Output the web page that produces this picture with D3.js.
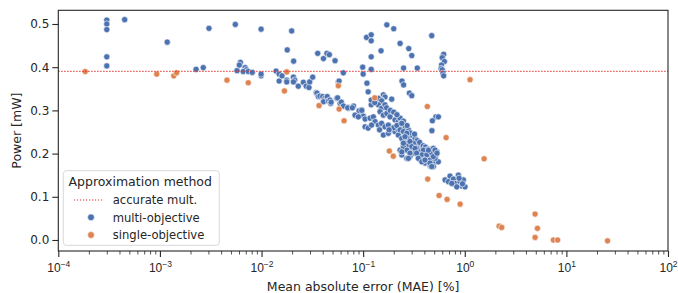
<!DOCTYPE html>
<html>
<head>
<meta charset="utf-8">
<script src="https://cdn.jsdelivr.net/npm/d3@7"></script>
<style>
  body { margin: 0; background: #fff; }
  svg { font-family: "DejaVu Sans", sans-serif; }
</style>
</head>
<body>
<svg id="chart" width="678" height="293"></svg>
<script>
// values
const xMajorTicks = [1e-4, 1e-3, 1e-2, 1e-1, 1e0, 1e1, 1e2]
const yTicks = [0, 0.1, 0.2, 0.3, 0.4, 0.5]
const accuratePower = 0.3905

// [MAE %, power mW]
const multiObjective = [
  [0.0003, 0.509], [0.0003, 0.500], [0.0003, 0.487], [0.0003, 0.424], [0.0003, 0.403],
  [0.00045, 0.510], [0.00118, 0.458], [0.00304, 0.490], [0.00227, 0.395], [0.00267, 0.399],
  [0.00552, 0.499], [0.00574, 0.392],
  [0.0062, 0.411], [0.00605, 0.405], [0.0069, 0.399], [0.0071, 0.394], [0.0066, 0.390], [0.0074, 0.390], [0.0081, 0.388],
  [0.0099, 0.488], [0.0099, 0.380], [0.0099, 0.384],
  [0.0139, 0.391], [0.0149, 0.384], [0.0149, 0.368], [0.0159, 0.380], [0.0177, 0.370], [0.0177, 0.366],
  [0.0179, 0.440], [0.0198, 0.484], [0.0207, 0.414], [0.0206, 0.377], [0.0212, 0.370], [0.0206, 0.366],
  [0.023, 0.356], [0.0258, 0.365], [0.0275, 0.356], [0.0293, 0.353], [0.0298, 0.366], [0.0319, 0.377],
  [0.0357, 0.432], [0.0407, 0.420], [0.044, 0.432], [0.0465, 0.429], [0.0529, 0.415],
  [0.0345, 0.341], [0.0351, 0.340], [0.0362, 0.332], [0.0376, 0.333], [0.040, 0.332], [0.042, 0.328],
  [0.0439, 0.327], [0.0443, 0.332], [0.0407, 0.320], [0.0455, 0.322], [0.0472, 0.324], [0.048, 0.316],
  [0.0484, 0.319], [0.055, 0.328], [0.056, 0.329], [0.0593, 0.316], [0.061, 0.319], [0.064, 0.310], [0.057, 0.366],
  [0.0638, 0.387], [0.058, 0.368], [0.0715, 0.307], [0.0715, 0.305], [0.0805, 0.310], [0.0865, 0.289],
  [0.0968, 0.301], [0.1003, 0.287],
  [0.099, 0.400], [0.10, 0.384], [0.109, 0.363],
  [0.108, 0.469], [0.12, 0.475], [0.12, 0.461], [0.12, 0.424], [0.12, 0.395], [0.112, 0.343], [0.12, 0.313],
  [0.150, 0.438], [0.171, 0.498], [0.20, 0.489], [0.231, 0.455], [0.281, 0.443], [0.301, 0.427],
  [0.25, 0.398], [0.341, 0.398], [0.473, 0.473],
  [0.241, 0.368], [0.25, 0.359], [0.285, 0.340], [0.301, 0.334],
  [0.191, 0.326], [0.158, 0.336], [0.164, 0.331], [0.152, 0.324],
  [0.62, 0.430], [0.60, 0.422], [0.63, 0.413], [0.59, 0.405], [0.585, 0.397], [0.60, 0.394], [0.61, 0.386], [0.62, 0.380],
  [0.52, 0.285], [0.55, 0.285], [0.48, 0.276], [0.475, 0.253], [0.443, 0.21],
  // main band
  [0.0705, 0.306], [0.0783, 0.306], [0.0912, 0.299], [0.0969, 0.300], [0.0832, 0.289], [0.0897, 0.285],
  [0.1045, 0.280], [0.117, 0.282], [0.126, 0.285], [0.120, 0.324], [0.141, 0.328], [0.152, 0.322],
  [0.141, 0.313], [0.152, 0.305], [0.164, 0.313], [0.1466, 0.297], [0.158, 0.289], [0.171, 0.293],
  [0.184, 0.285], [0.131, 0.274], [0.141, 0.266], [0.152, 0.270], [0.164, 0.262], [0.177, 0.266],
  [0.206, 0.278], [0.222, 0.274], [0.231, 0.282], [0.249, 0.275], [0.1045, 0.262], [0.112, 0.259],
  [0.121, 0.266], [0.191, 0.255], [0.206, 0.251], [0.222, 0.255], [0.158, 0.243], [0.177, 0.247],
  [0.240, 0.262], [0.258, 0.259], [0.279, 0.255], [0.222, 0.243], [0.240, 0.235], [0.258, 0.243],
  [0.279, 0.235], [0.301, 0.243], [0.324, 0.235], [0.258, 0.224], [0.279, 0.220], [0.301, 0.224],
  [0.324, 0.216], [0.349, 0.220], [0.378, 0.212], [0.301, 0.208], [0.336, 0.212], [0.363, 0.204],
  [0.13, 0.318], [0.17, 0.306], [0.185, 0.300], [0.20, 0.296], [0.215, 0.290], [0.235, 0.270],
  [0.27, 0.265], [0.29, 0.248], [0.32, 0.245], [0.34, 0.230], [0.36, 0.226], [0.39, 0.218],
  [0.41, 0.215], [0.20, 0.260], [0.215, 0.265], [0.18, 0.255], [0.145, 0.255],
  // cluster around 0.2 mW
  [0.455, 0.208], [0.491, 0.204], [0.522, 0.197], [0.455, 0.197], [0.473, 0.185], [0.510, 0.181],
  [0.549, 0.181], [0.423, 0.178], [0.455, 0.171], [0.392, 0.184], [0.363, 0.187], [0.349, 0.197],
  [0.312, 0.201], [0.289, 0.193], [0.269, 0.189], [0.240, 0.197], [0.231, 0.208], [0.249, 0.216], [0.312, 0.224],
  [0.392, 0.208], [0.439, 0.210], [0.491, 0.212], [0.378, 0.197], [0.423, 0.197], [0.473, 0.201],
  [0.533, 0.204], [0.510, 0.189], [0.455, 0.185], [0.406, 0.178], [0.455, 0.174], [0.491, 0.170], [0.392, 0.185],
  [0.240, 0.270], [0.231, 0.255], [0.249, 0.251], [0.269, 0.247], [0.258, 0.239], [0.289, 0.228],
  [0.301, 0.216], [0.324, 0.212], [0.269, 0.208], [0.289, 0.201], [0.249, 0.224], [0.240, 0.204],
  [0.279, 0.189], [0.336, 0.201], [0.349, 0.189], [0.378, 0.181], [0.406, 0.185], [0.455, 0.178],
  [0.439, 0.208], [0.491, 0.193], [0.510, 0.208], [0.533, 0.201], [0.473, 0.170],
  // cluster near MAE 1 %
  [0.640, 0.139], [0.716, 0.148], [0.690, 0.135], [0.773, 0.141], [0.802, 0.131], [0.865, 0.150],
  [0.898, 0.135], [0.934, 0.125], [1.006, 0.123], [0.968, 0.139], [0.834, 0.123], [0.745, 0.131],
  [0.88, 0.143], [0.95, 0.130]
]

const singleObjective = [
  [0.000184, 0.390], [0.00093, 0.384], [0.00137, 0.380], [0.00146, 0.387], [0.00457, 0.370],
  [0.0074, 0.364], [0.0168, 0.345], [0.0177, 0.389], [0.0368, 0.311], [0.057, 0.357], [0.058, 0.303],
  [0.0649, 0.276], [0.130, 0.329], [0.181, 0.206], [0.198, 0.194], [0.428, 0.309], [0.432, 0.141],
  [0.559, 0.103], [0.655, 0.237], [0.67, 0.094], [0.90, 0.083], [1.127, 0.371], [1.55, 0.188],
  [2.18, 0.032], [2.31, 0.029], [4.92, 0.060], [5.19, 0.027], [4.92, 0.006], [7.45, 0.0],
  [8.2, 0.0], [25.4, -0.002]
]

const blue = '#4c72b0'
const orange = '#dd8452'
const lineRed = '#e5322b'
const axisColor = '#262626'

const svg = d3.select('#chart')
const plotLeft = 58.3, plotRight = 668, plotTop = 10.3, plotBottom = 251

const x = d3.scaleLog().domain([1e-4, 1e2]).range([plotLeft, plotRight])
const y = d3.scaleLinear().domain([-0.0255, 0.5317]).range([plotBottom, plotTop])

const xMinorTicks = []
xMajorTicks.slice(0, -1).forEach((d) => {
  for (let k = 2; k <= 9; k++) xMinorTicks.push(d * k)
})

// points
const pts = svg.append('g')
pts.selectAll('circle.multi')
  .data(multiObjective)
  .enter()
  .append('circle')
  .attr('class', 'multi')
  .attr('cx', (d) => x(d[0]))
  .attr('cy', (d) => y(d[1]))
  .attr('r', 3.1)
  .attr('fill', blue)
  .attr('stroke', '#fff')
  .attr('stroke-width', 0.6)

pts.selectAll('circle.single')
  .data(singleObjective)
  .enter()
  .append('circle')
  .attr('class', 'single')
  .attr('cx', (d) => x(d[0]))
  .attr('cy', (d) => y(d[1]))
  .attr('r', 3.1)
  .attr('fill', orange)
  .attr('stroke', '#fff')
  .attr('stroke-width', 0.6)

// accurate multiplier reference line
svg.append('line')
  .attr('x1', plotLeft).attr('x2', plotRight)
  .attr('y1', y(accuratePower)).attr('y2', y(accuratePower))
  .attr('stroke', lineRed)
  .attr('stroke-width', 1.2)
  .attr('stroke-dasharray', '1.2,1.8')

// frame
svg.append('rect')
  .attr('x', plotLeft).attr('y', plotTop)
  .attr('width', plotRight - plotLeft).attr('height', plotBottom - plotTop)
  .attr('fill', 'none')
  .attr('stroke', axisColor)
  .attr('stroke-width', 1.1)

// x axis
const xAxis = svg.append('g')
  .attr('transform', `translate(0,${plotBottom})`)
  .call(d3.axisBottom(x).tickValues(xMajorTicks).tickSize(6).tickFormat(''))
xAxis.select('.domain').remove()
xAxis.selectAll('line').attr('stroke', axisColor).attr('stroke-width', 1.1)
xAxis.selectAll('.tick text').remove()
xAxis.selectAll('.tick').each(function (d) {
  const exp = Math.round(Math.log10(d))
  const t = d3.select(this).append('text')
    .attr('y', 20.5)
    .attr('text-anchor', 'middle')
    .attr('fill', axisColor)
    .style('font-size', '12px')
  t.append('tspan').text('10')
  t.append('tspan')
    .attr('dy', -5)
    .style('font-size', '8.5px')
    .text(exp < 0 ? '\u2212' + Math.abs(exp) : String(exp))
})

const xMinor = svg.append('g')
  .attr('transform', `translate(0,${plotBottom})`)
  .call(d3.axisBottom(x).tickValues(xMinorTicks).tickSize(3.5).tickFormat(''))
xMinor.select('.domain').remove()
xMinor.selectAll('line').attr('stroke', axisColor).attr('stroke-width', 0.8)

// y axis
const yAxis = svg.append('g')
  .attr('transform', `translate(${plotLeft},0)`)
  .call(d3.axisLeft(y).tickValues(yTicks).tickSize(6).tickPadding(3).tickFormat(d3.format('.1f')))
yAxis.select('.domain').remove()
yAxis.selectAll('line').attr('stroke', axisColor).attr('stroke-width', 1.1)
yAxis.selectAll('text').attr('fill', axisColor).style('font-size', '12px').style('font-family', '"DejaVu Sans", sans-serif')

// axis labels
svg.append('text')
  .attr('x', (plotLeft + plotRight) / 2)
  .attr('y', 290.5)
  .attr('text-anchor', 'middle')
  .attr('fill', axisColor)
  .style('font-size', '12.5px')
  .text('Mean absolute error (MAE) [%]')

svg.append('text')
  .attr('transform', `translate(21,${(plotTop + plotBottom) / 2}) rotate(-90)`)
  .attr('text-anchor', 'middle')
  .attr('fill', axisColor)
  .style('font-size', '12.5px')
  .text('Power [mW]')

// legend
const lg = svg.append('g')
lg.append('rect')
  .attr('x', 63.3).attr('y', 170.7)
  .attr('width', 156).attr('height', 74.6)
  .attr('rx', 3)
  .attr('fill', '#fff').attr('fill-opacity', 0.8)
  .attr('stroke', '#d4d4d4').attr('stroke-width', 0.9)

lg.append('text')
  .attr('x', 68.5).attr('y', 186)
  .attr('fill', axisColor)
  .style('font-size', '12.5px')
  .text('Approximation method')

lg.append('line')
  .attr('x1', 74).attr('x2', 102.7)
  .attr('y1', 200).attr('y2', 200)
  .attr('stroke', lineRed)
  .attr('stroke-width', 1.2)
  .attr('stroke-dasharray', '1.2,1.8')

const entries = [
  { label: 'accurate mult.', y: 200, color: null },
  { label: 'multi-objective', y: 217.3, color: blue },
  { label: 'single-objective', y: 235, color: orange },
]
entries.forEach((e) => {
  if (e.color) {
    lg.append('circle')
      .attr('cx', 91).attr('cy', e.y).attr('r', 3.4)
      .attr('fill', e.color)
      .attr('stroke', '#fff').attr('stroke-width', 0.6)
  }
  lg.append('text')
    .attr('x', 112.7).attr('y', e.y + 4.2)
    .attr('fill', axisColor)
    .style('font-size', '11.6px')
    .text(e.label)
})
</script>
</body>
</html>
